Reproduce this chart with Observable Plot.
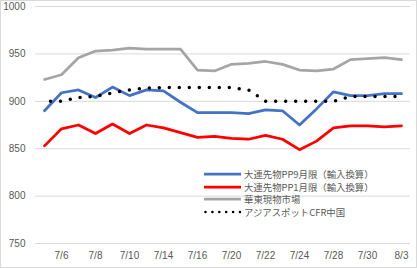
<!DOCTYPE html>
<html><head><meta charset="utf-8">
<script src="https://cdn.jsdelivr.net/npm/d3@7"></script>
<script src="https://cdn.jsdelivr.net/npm/@observablehq/plot@0.6"></script>
<style>
body{margin:0;background:#fff;}
#wrap{position:relative;width:417px;height:268px;overflow:hidden;}
#border{position:absolute;left:0;top:0;width:415px;height:266px;border:1px solid #d9d9d9;pointer-events:none;}
#legend{position:absolute;left:204px;top:168px;font-family:"Noto Sans CJK JP",sans-serif;font-size:9.4px;color:#595959;}
.row{display:flex;align-items:center;height:12.5px;white-space:nowrap;}
.row svg{margin-right:3px;}
</style></head>
<body>
<div id="wrap"><div id="chart"></div><div id="legend"></div><div id="border"></div></div>
<script>
const dates=["7/3","7/6","7/7","7/8","7/9","7/10","7/13","7/14","7/15","7/16","7/17","7/20","7/21","7/22","7/23","7/24","7/27","7/28","7/29","7/30","7/31","8/3"];
const pp9=[890,909,912,904,915,906,912,911,899,888,888,888,887,891,890,875,892,910,906,906,908,908];
const pp1=[853,871,875,866,876,866,875,872,867,862,863,861,860,864,860,849,858,872,874,874,873,874];
const huadong=[923,928,946,953,954,956,955,955,955,933,932,939,940,942,939,933,932,934,944,945,946,944];
const asia=[900,900,904,905,909,912,914,914.5,914.5,914.5,914.5,914.5,912,900,900,900,900,900,905,905,905,905];
const seriesNames=["大連先物PP9月限（輸入換算）","大連先物PP1月限（輸入換算）","華東現物市場","アジアスポットCFR中国"];
const colors=["#4472C4","#FF0000","#A5A5A5","#000000"];
const yTicks=[750,800,850,900,950,1000];
const xLabels=dates.filter((d,i)=>i%2===1);
const rows=vals=>dates.map((d,i)=>({date:d,value:vals[i]}));

const chart=Plot.plot({
  width:417,height:268,marginLeft:35,marginRight:7,marginTop:6,marginBottom:25,
  style:{fontFamily:"Liberation Sans, Arial, sans-serif",fontSize:"10px",color:"#595959",background:"transparent"},
  x:{type:"point",domain:dates,padding:0.5},
  y:{domain:[750,1000]},
  marks:[
    Plot.ruleY(yTicks,{stroke:"#d9d9d9",strokeWidth:1}),
    Plot.axisY({ticks:yTicks,tickFormat:d=>String(d),tickSize:0,tickPadding:10,label:null}),
    Plot.axisX({ticks:xLabels,tickSize:0,tickPadding:8,label:null}),
    Plot.line(rows(pp9),{x:"date",y:"value",stroke:colors[0],strokeWidth:2.75}),
    Plot.line(rows(pp1),{x:"date",y:"value",stroke:colors[1],strokeWidth:2.75}),
    Plot.line(rows(huadong),{x:"date",y:"value",stroke:colors[2],strokeWidth:2.75}),
    Plot.line(rows(asia),{x:"date",y:"value",stroke:colors[3],strokeWidth:3.5,strokeDasharray:"0 10",strokeDashoffset:4,strokeLinecap:"round"})
  ]
});
document.getElementById("chart").appendChild(chart);

const legend=document.getElementById("legend");
seriesNames.forEach((name,i)=>{
  const row=document.createElement("div");row.className="row";
  const dash=i===3?'stroke-dasharray="0 6.9" stroke-linecap="round" stroke-width="2.6"':'stroke-width="2.75"';
  row.innerHTML=`<svg width="37" height="6"><line x1="${i===3?1.5:0}" x2="37" y1="3" y2="3" stroke="${colors[i]}" ${dash}/></svg><span>${name}</span>`;
  legend.appendChild(row);
});
</script>
</body></html>
